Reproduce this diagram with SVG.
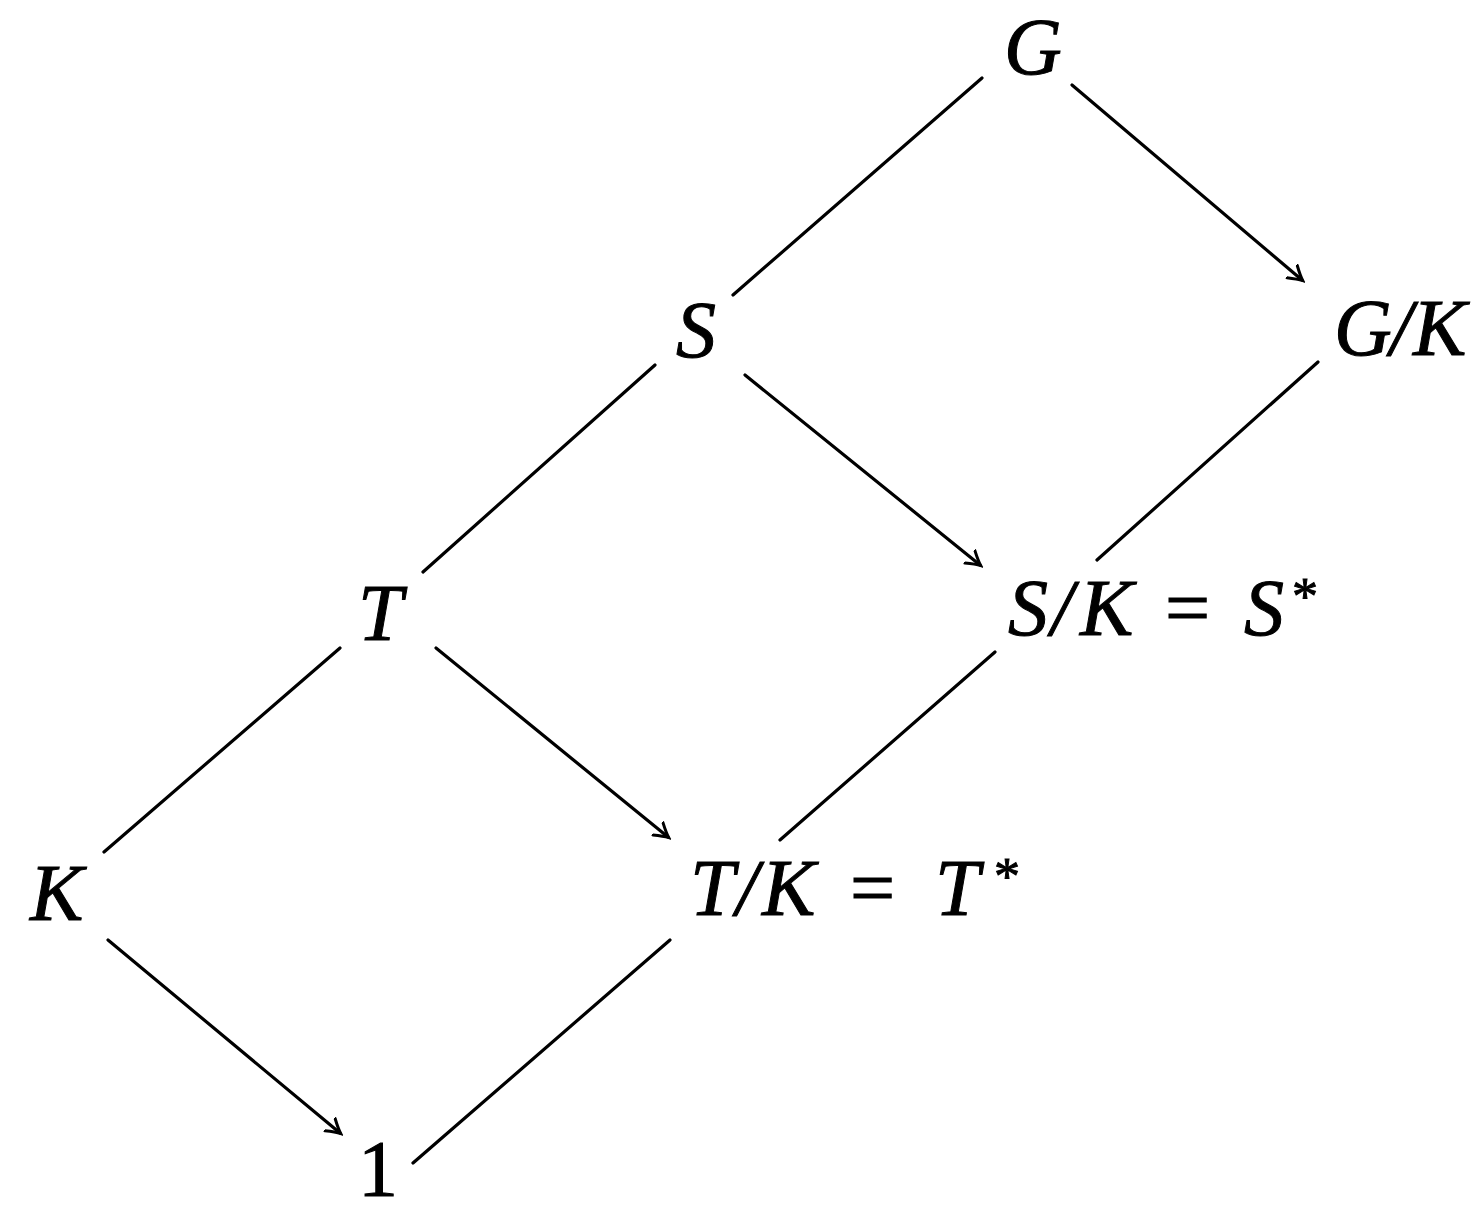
<svg xmlns="http://www.w3.org/2000/svg" width="1471" height="1206" viewBox="0 0 1471 1206">
<style>
.t{font-family:"Liberation Serif","Times New Roman",serif;font-size:80px;font-style:italic;fill:#000;stroke:#000;stroke-width:1px}
.u{font-style:normal}
.a{font-style:normal;font-size:52px}
.e{fill:none;stroke:#000;stroke-width:3.2;stroke-linecap:round}
</style>
<defs>
<marker id="ar" markerUnits="userSpaceOnUse" viewBox="-14 -10 18 20" markerWidth="18" markerHeight="20" refX="0" refY="0" orient="auto">
<path d="M-13,-8 Q-4,-2 1,0 Q-4,2 -13,8" fill="none" stroke="#000" stroke-width="3" stroke-linecap="round"/>
</marker>
</defs>
<rect width="1471" height="1206" fill="#fff"/>
<g id="connectors">
<line class="e" x1="982" y1="78" x2="733" y2="295"/>
<line class="e" x1="1072" y1="85" x2="1302" y2="280" marker-end="url(#ar)"/>
<line class="e" x1="655" y1="365" x2="423" y2="572"/>
<line class="e" x1="745" y1="375" x2="980" y2="565" marker-end="url(#ar)"/>
<line class="e" x1="1318" y1="362" x2="1097" y2="560"/>
<line class="e" x1="340" y1="648" x2="104" y2="852"/>
<line class="e" x1="436" y1="648" x2="668" y2="837" marker-end="url(#ar)"/>
<line class="e" x1="995" y1="652" x2="780" y2="840"/>
<line class="e" x1="108" y1="940" x2="340" y2="1133" marker-end="url(#ar)"/>
<line class="e" x1="670" y1="940" x2="413" y2="1163"/>
</g>
<g id="G"><text class="t" x="1004" y="74">G</text></g>
<g id="GK"><text class="t" y="355"><tspan x="1334">G</tspan><tspan x="1390">/</tspan><tspan x="1413">K</tspan></text></g>
<g id="S"><text class="t" x="676" y="357">S</text></g>
<g id="SK"><text class="t" y="635"><tspan x="1008">S</tspan><tspan x="1051">/</tspan><tspan x="1080">K</tspan><tspan class="u" x="1165">=</tspan><tspan x="1244">S</tspan><tspan class="a" x="1292" y="614">*</tspan></text></g>
<g id="T"><text class="t" x="358" y="640">T</text></g>
<g id="TK"><text class="t" y="915"><tspan x="690">T</tspan><tspan x="736">/</tspan><tspan x="762">K</tspan><tspan class="u" x="850">=</tspan><tspan x="935">T</tspan><tspan class="a" x="994" y="894">*</tspan></text></g>
<g id="K"><text class="t" x="30" y="920">K</text></g>
<g id="one"><text class="t u" x="358" y="1196">1</text></g>
</svg>
